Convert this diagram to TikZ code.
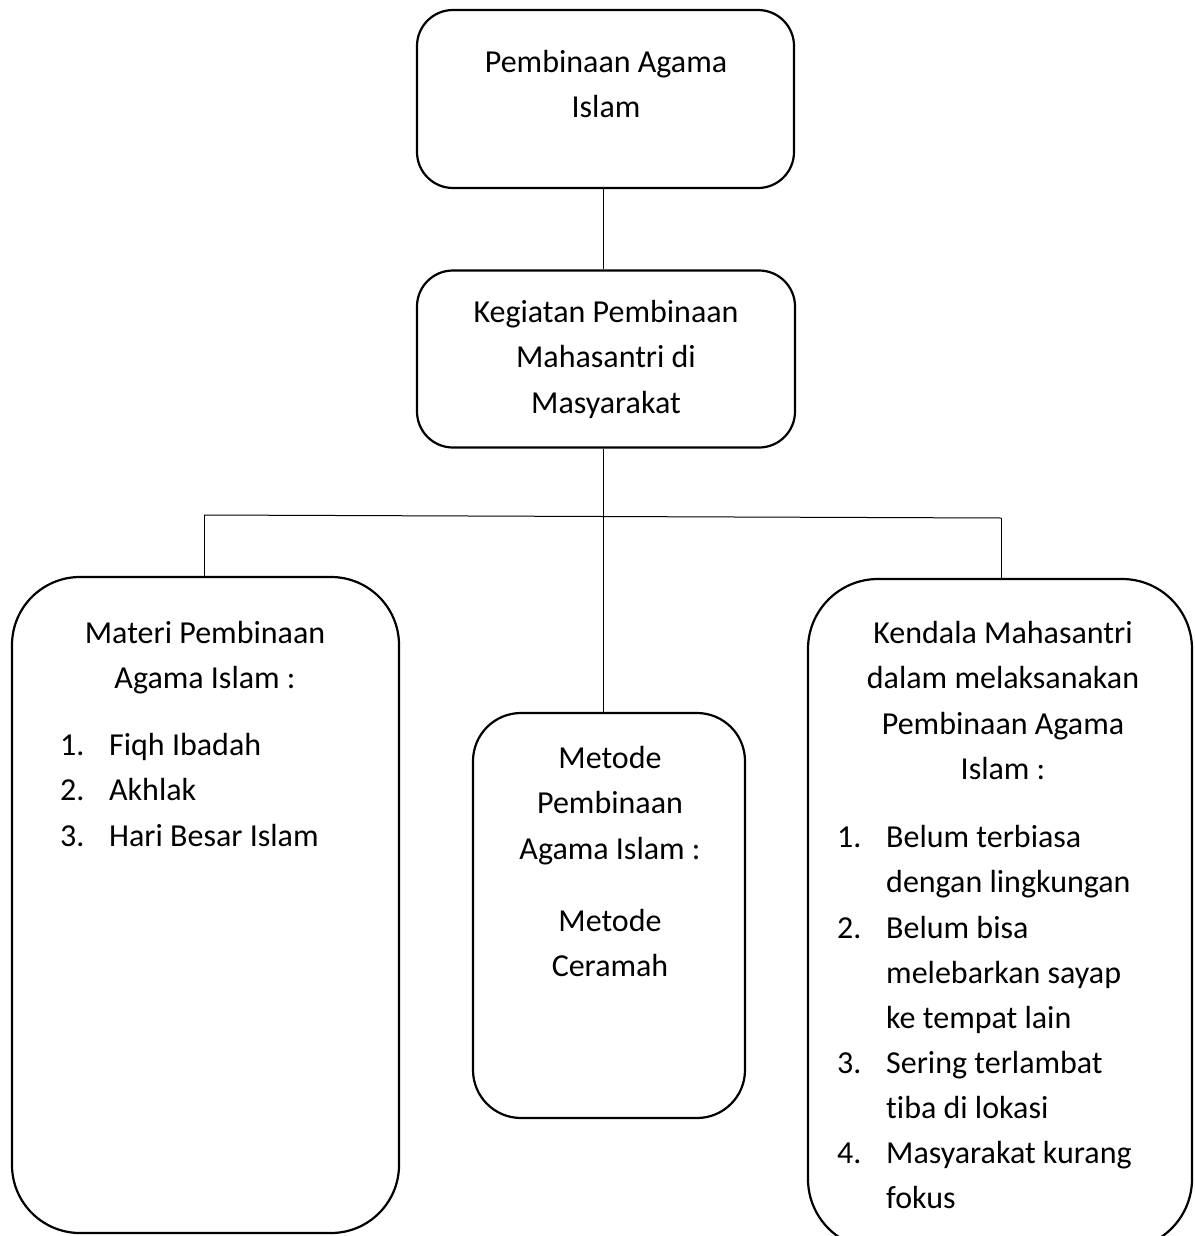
\documentclass[tikz,border=0pt]{standalone}
\usepackage{fontspec}
\setmainfont{Carlito}[Ligatures=NoCommon]
\newcommand{\fsz}{\fontsize{32}{45.1}\selectfont}
\newcommand{\itm}[1]{\makebox[49pt][l]{#1}}
\newcommand{\cnt}{\hspace*{49pt}}
\begin{document}
\begin{tikzpicture}[x=1pt,y=-1pt,
  box/.style={draw, line width=2.2pt, rounded corners=#1, inner sep=0pt},
  conn/.style={draw, line width=1pt},
  txt/.style={anchor=north, inner sep=0pt, align=center, font=\fsz, execute at begin node=\strut},
  lst/.style={anchor=north west, inner sep=0pt, align=left, font=\fsz, execute at begin node=\strut}
]
\useasboundingbox (0,0) rectangle (1194,1236);
\fill[white] (0,0) rectangle (1194,1236);

% boxes
\node[box=36pt, minimum width=377pt, minimum height=178pt] (top) at (605.5,99) {};
\node[box=36pt, minimum width=378pt, minimum height=177pt] (keg) at (606,359) {};
\node[box=68pt, minimum width=387pt, minimum height=656pt] (mat) at (205.5,905) {};
\node[box=48pt, minimum width=272pt, minimum height=405pt] (met) at (609,915.5) {};
\node[box=70pt, minimum width=384pt, minimum height=670pt] (ken) at (1000,914) {};

% connectors
\coordinate (hl) at (204,515);
\coordinate (hr) at (1001,518);
\draw[conn] (top.south -| 603,0) -- (keg.north -| 603,0);
\draw[conn] (keg.south -| 603,0) -- (met.north -| 603,0);
\draw[conn] (hl) -- (hr);
\draw[conn] (hl) -- (hl |- mat.north);
\draw[conn] (hr) -- (hr |- ken.north);

% texts
\node[txt] (t1) at (606,72-21.6) {Pembinaan Agama\\Islam};
\node[txt] (t2) at (606,322-21.6) {Kegiatan Pembinaan\\Mahasantri di\\Masyarakat};
\node[txt] (t3) at (205,643-21.6) {Materi Pembinaan\\Agama Islam :};
\node[lst] (l3) at (60,755-21.6) {\itm{1.}Fiqh Ibadah\\\itm{2.}Akhlak\\\itm{3.}Hari Besar Islam};
\node[txt] (t4) at (610,768-21.6) {Metode\\Pembinaan\\Agama Islam :};
\node[txt] (t4b) at (610,931-21.6) {Metode\\Ceramah};
\node[txt] (t5) at (1003,643-21.6) {Kendala Mahasantri\\dalam melaksanakan\\Pembinaan Agama\\Islam :};
\node[lst] (l5) at (837,847-21.6) {\itm{1.}Belum terbiasa\\\cnt dengan lingkungan\\\itm{2.}Belum bisa\\\cnt melebarkan sayap\\\cnt ke tempat lain\\\itm{3.}Sering terlambat\\\cnt tiba di lokasi\\\itm{4.}Masyarakat kurang\\\cnt fokus};
\end{tikzpicture}
\end{document}
